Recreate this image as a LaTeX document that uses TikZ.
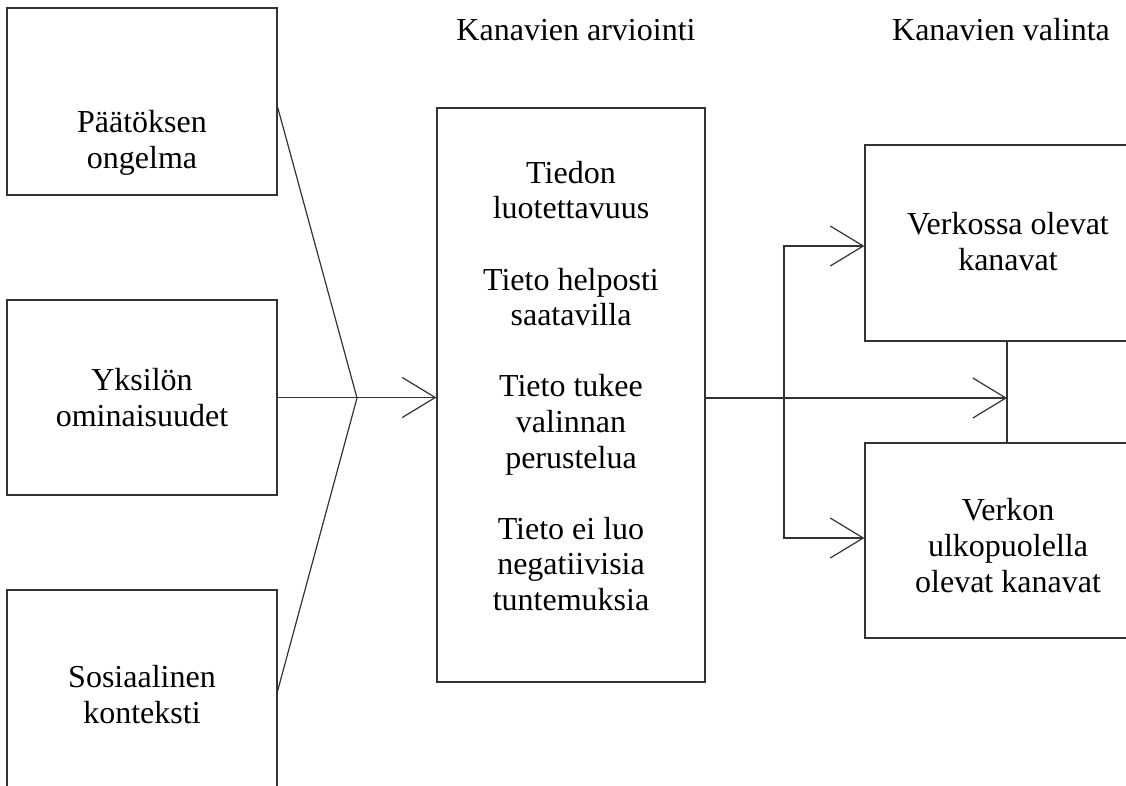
\documentclass[tikz,border=0pt]{standalone}
\usepackage{fontspec}
\setmainfont{Liberation Serif}
\usetikzlibrary{arrows.meta}
\begin{document}
\begin{tikzpicture}[x=1pt,y=-1pt,
  ln/.style={line width=1.2pt, draw=black!80},
  boxshape/.style={ln, rectangle, inner sep=0pt},
  txt/.style={align=center, font=\fontsize{32}{36}\selectfont, inner sep=0pt},
  arr/.style={ln, -{Straight Barb[length=33pt, width=40pt, line width=1.2pt]}}
]
\useasboundingbox (0,0) rectangle (1126,785);
\clip (0,0) rectangle (1126,785);
% boxes
\node[boxshape, minimum width=270pt, minimum height=187pt] (b1) at (142,101.5) {};
\node[boxshape, minimum width=270pt, minimum height=195pt] (b2) at (142,397.5) {};
\node[boxshape, minimum width=270pt, minimum height=220pt] (b3) at (142,700) {};
\node[boxshape, minimum width=268pt, minimum height=574pt] (m) at (571,395) {};
\node[boxshape, minimum width=290pt, minimum height=196pt] (r1) at (1010,243) {};
\node[boxshape, minimum width=290pt, minimum height=195pt] (r2) at (1010,540.5) {};
% texts
\node[txt] (t1) at (142,143) {Päätöksen\\ongelma};
\node[txt] (t2) at (142,398) {Yksilön\\ominaisuudet};
\node[txt] (t3) at (142,695) {Sosiaalinen\\konteksti};
\node[txt, font=\fontsize{32}{35.6}\selectfont] (tm) at (571,386) {Tiedon\\luotettavuus\\[35.6pt]Tieto helposti\\saatavilla\\[35.6pt]Tieto tukee\\valinnan\\perustelua\\[35.6pt]Tieto ei luo\\negatiivisia\\tuntemuksia};
\node[txt] (tr1) at (1008,242) {Verkossa olevat\\kanavat};
\node[txt] (tr2) at (1008,546) {Verkon\\ulkopuolella\\olevat kanavat};
\node[txt] (h1) at (576,30) {Kanavien arviointi};
\node[txt] (h2) at (1001,30) {Kanavien valinta};
% connectors
\coordinate (j) at (357,398);
\coordinate (k) at (784,398);
\draw[ln] (b1.east |- 0,107) -- (j);
\draw[ln] (b3.east |- 0,691) -- (j);
\draw[arr] (b2.east) -- (m.west |- b2.east);
\draw[arr] (m.east |- k) -- (1007,398) coordinate (e);
\draw[ln] (r1.south -| e) -- (r2.north -| e);
\draw[arr] (k) |- (r1.west |- 0,246);
\draw[arr] (k) |- (r2.west |- 0,538);
\end{tikzpicture}
\end{document}
